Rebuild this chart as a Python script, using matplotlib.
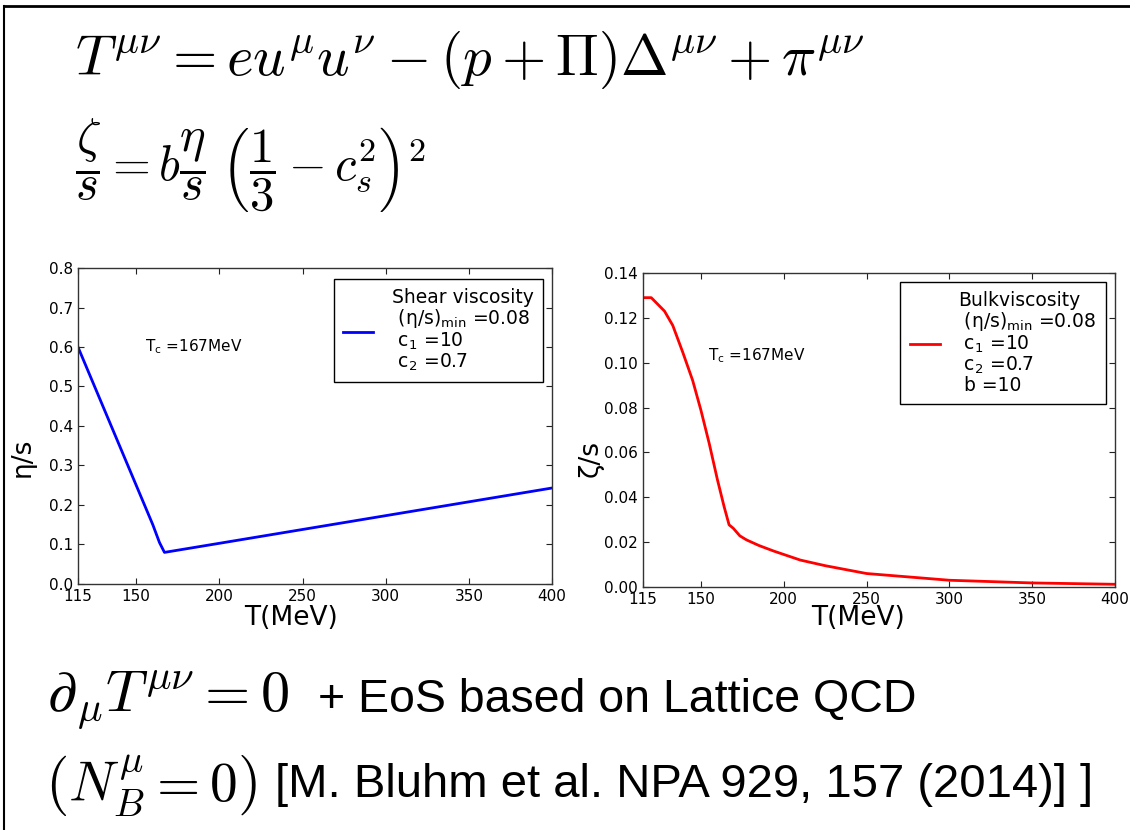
import numpy as np
import matplotlib
matplotlib.use('Agg')
import matplotlib.pyplot as plt
from matplotlib.lines import Line2D

# shear viscosity eta/s vs temperature
T_shear = [115, 120, 130, 140, 150, 160, 164, 167, 200, 250, 300, 350, 400]
eta_s = [0.60, 0.55, 0.45, 0.35, 0.25, 0.15, 0.105, 0.08, 0.103, 0.138, 0.173, 0.208, 0.243]

# bulk viscosity zeta/s vs temperature
T_bulk = [115, 120, 128, 133, 139, 145, 150, 155, 160, 164, 167, 169.5, 173.5,
          177.5, 185, 194, 200, 210, 225, 250, 275, 300, 350, 400]
zeta_s = [0.129, 0.129, 0.123, 0.1166, 0.1047, 0.0921, 0.0788, 0.064, 0.0477,
          0.0358, 0.0277, 0.0262, 0.0228, 0.021, 0.0185, 0.016, 0.0145, 0.012,
          0.0095, 0.006, 0.0045, 0.003, 0.0018, 0.0012]

T_ticks = [115, 150, 200, 250, 300, 350, 400]

shear_label = 'Shear viscosity\n (\u03b7/s)$_\\mathregular{min}$ =0.08\n c$_\\mathregular{1}$ =10\n c$_\\mathregular{2}$ =0.7'
bulk_label = 'Bulkviscosity\n (\u03b7/s)$_\\mathregular{min}$ =0.08\n c$_\\mathregular{1}$ =10\n c$_\\mathregular{2}$ =0.7\n b =10'
tc_text = 'T$_\\mathregular{c}$ =167MeV'

plt.rcParams['font.family'] = 'DejaVu Sans'

fig = plt.figure(figsize=(11.3, 8.3), dpi=100)

# slide frame
fig.add_artist(Line2D([0.004, 1.0], [0.9925, 0.9925], color='k', lw=2))
fig.add_artist(Line2D([0.0035, 0.0035], [0.0, 0.9925], color='k', lw=1.5))


def style_axes(ax, xlim, ylim):
    ax.set_xlim(xlim)
    ax.set_ylim(ylim)
    ax.set_xticks(T_ticks)
    ax.tick_params(direction='in', top=True, right=True, labelsize=11,
                   length=4, width=0.8, colors='#222222', labelcolor='k')
    for sp in ax.spines.values():
        sp.set_linewidth(1.0)
        sp.set_color('#333333')
    ax.set_xlabel('T(MeV)', fontsize=19)


def add_legend(ax, anchor):
    leg = ax.legend(loc='upper right', bbox_to_anchor=anchor, borderaxespad=0,
                    fontsize=13.5, handlelength=1.6, handletextpad=1.0,
                    borderpad=0.5, fancybox=False, framealpha=1, edgecolor='k')
    leg.get_frame().set_linewidth(1.0)
    for t in leg.get_texts():
        t.set_linespacing(1.0)
    return leg


ax1 = fig.add_axes([0.069, 0.2964, 0.4195, 0.3807])
ax1.plot(T_shear, eta_s, '-', color='b', lw=2, label=shear_label)
style_axes(ax1, (115, 400), (0, 0.8))
ax1.set_yticks(np.arange(0, 0.81, 0.1))
ax1.set_ylabel('\u03b7/s', fontsize=19)
ax1.yaxis.set_label_coords(-0.09, 0.40)
ax1.xaxis.set_label_coords(0.45, -0.065)
ax1.text(155, 0.60, tc_text, fontsize=11, va='center')
add_legend(ax1, (0.981, 0.965))

ax2 = fig.add_axes([0.569, 0.2928, 0.4177, 0.3783])
ax2.plot(T_bulk, zeta_s, '-', color='r', lw=2, label=bulk_label)
style_axes(ax2, (115, 400), (0, 0.14))
ax2.set_yticks(np.arange(0, 0.141, 0.02))
ax2.set_ylabel('\u03b6/s', fontsize=19)
ax2.yaxis.set_label_coords(-0.083, 0.41)
ax2.xaxis.set_label_coords(0.455, -0.058)
ax2.text(154, 0.103, tc_text, fontsize=11, va='center')
add_legend(ax2, (0.981, 0.971))

# equations on the slide
fig.text(0.066, 0.91, r'$T^{\mu\nu} = eu^{\mu}u^{\nu} - (p + \Pi)\Delta^{\mu\nu} + \pi^{\mu\nu}$',
         fontsize=41, math_fontfamily='cm', va='baseline')
fig.text(0.066, 0.80, r'$\dfrac{\zeta}{s} = b\dfrac{\eta}{s}\;\left(\dfrac{1}{3} - c_s^2\right)^2$',
         fontsize=35, math_fontfamily='cm', va='center')
fig.text(0.042, 0.157, r'$\partial_\mu T^{\mu\nu} = 0$',
         fontsize=42, math_fontfamily='cm', va='center')
fig.text(0.281, 0.157, '+ EoS based on Lattice QCD',
         fontsize=33.5, va='center', family='Liberation Sans')
fig.text(0.040, 0.054, r'$\left(N_B^\mu = 0\right)$',
         fontsize=40, math_fontfamily='cm', va='center')
fig.text(0.243, 0.054, '[M. Bluhm et al. NPA 929, 157 (2014)] ]',
         fontsize=34, va='center', family='Liberation Sans')

fig.savefig('out.png', dpi=100)
